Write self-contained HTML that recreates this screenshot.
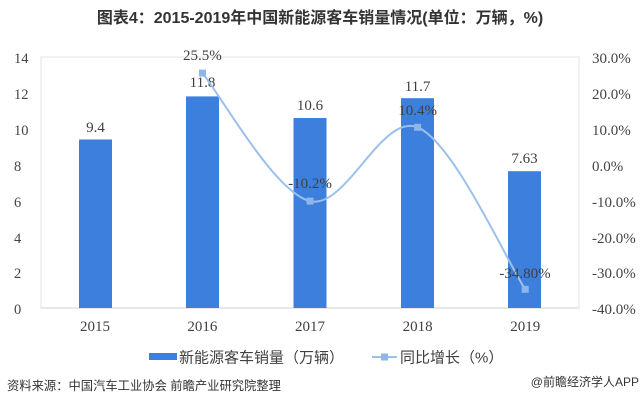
<!DOCTYPE html>
<html><head><meta charset="utf-8"><style>
html,body{margin:0;padding:0;background:#fff;}
svg{display:block;}
</style></head><body>
<svg width="641" height="404" viewBox="0 0 641 404" xmlns="http://www.w3.org/2000/svg">
<rect width="641" height="404" fill="#fff"/>
<text x="320" y="23" text-anchor="middle" font-family="'Liberation Sans','Noto Sans CJK SC',sans-serif" font-size="16" font-weight="bold" fill="#333">图表4：2015-2019年中国新能源客车销量情况(单位：万辆，%)</text>
<!-- plot border -->
<rect x="41" y="57" width="538" height="251" fill="none" stroke="#e3e3e3" stroke-width="1"/>
<line x1="41" y1="308" x2="579" y2="308" stroke="#d0d0d0" stroke-width="1"/>
<!-- left axis -->
<g font-family="'Liberation Serif',serif" font-size="14.5" fill="#444">
<text x="14" y="63">14</text>
<text x="14" y="99">12</text>
<text x="14" y="135">10</text>
<text x="14" y="171">8</text>
<text x="14" y="207">6</text>
<text x="14" y="243">4</text>
<text x="14" y="278">2</text>
<text x="14" y="314">0</text>
</g>
<!-- right axis -->
<g font-family="'Liberation Serif',serif" font-size="15" fill="#444">
<text x="592" y="63">30.0%</text>
<text x="592" y="99">20.0%</text>
<text x="592" y="135">10.0%</text>
<text x="592" y="171">0.0%</text>
<text x="592" y="207">-10.0%</text>
<text x="592" y="243">-20.0%</text>
<text x="592" y="278">-30.0%</text>
<text x="592" y="314">-40.0%</text>
</g>
<!-- bars -->
<g fill="#3c7fdc">
<rect x="79" y="139.5" width="33" height="168.5"/>
<rect x="186" y="96.4" width="33" height="211.6"/>
<rect x="293.5" y="118" width="33" height="190"/>
<rect x="401" y="98.2" width="33" height="209.8"/>
<rect x="508" y="171.2" width="33" height="136.8"/>
</g>
<!-- bar labels -->
<g font-family="'Liberation Serif',serif" font-size="15" fill="#404040" text-anchor="middle">
<text x="95.5" y="132">9.4</text>
<text x="202.5" y="87">11.8</text>
<text x="310" y="110">10.6</text>
<text x="417.6" y="91">11.7</text>
<text x="524.5" y="163">7.63</text>
</g>
<!-- line -->
<path d="M202.4,73.1 C220.3,94.4 274.1,192.1 310,201.1 C345.9,210.1 381.7,112.6 417.6,127.3 C453.5,142 507.3,262.3 525.2,289.3" fill="none" stroke="#9cc0ea" stroke-width="2"/>
<g fill="#8fb6ea">
<rect x="199" y="69.6" width="7" height="7"/>
<rect x="306.5" y="197.6" width="7" height="7"/>
<rect x="414.1" y="123.8" width="7" height="7"/>
<rect x="521.7" y="285.8" width="7" height="7"/>
</g>
<g font-family="'Liberation Serif',serif" font-size="15" fill="#404040" text-anchor="middle">
<text x="202.4" y="60">25.5%</text>
<text x="310" y="188">-10.2%</text>
<text x="417.6" y="115">10.4%</text>
<text x="525" y="278">-34.80%</text>
</g>
<!-- x labels -->
<g font-family="'Liberation Serif',serif" font-size="15" fill="#404040" text-anchor="middle">
<text x="95" y="331">2015</text>
<text x="202.4" y="331">2016</text>
<text x="310" y="331">2017</text>
<text x="417.6" y="331">2018</text>
<text x="525.2" y="331">2019</text>
</g>
<!-- legend -->
<rect x="149" y="353" width="28" height="7" fill="#3c7fdc"/>
<text x="179" y="362.5" font-family="'Liberation Sans','Noto Sans CJK SC',sans-serif" font-size="15" fill="#404040">新能源客车销量（万辆）</text>
<line x1="372" y1="357" x2="397" y2="357" stroke="#9cc0ea" stroke-width="2"/>
<rect x="381" y="353.5" width="7" height="7" fill="#8fb6ea"/>
<text x="400" y="362.5" font-family="'Liberation Sans','Noto Sans CJK SC',sans-serif" font-size="15" fill="#404040">同比增长（%）</text>
<!-- source -->
<text x="7" y="390" font-family="'Liberation Sans','Noto Sans CJK SC',sans-serif" font-size="12.3" fill="#333">资料来源：中国汽车工业协会 前瞻产业研究院整理</text>
<text x="639" y="386" text-anchor="end" font-family="'Liberation Sans','Noto Sans CJK SC',sans-serif" font-size="12" fill="#333">@前瞻经济学人APP</text>
</svg>
</body></html>
